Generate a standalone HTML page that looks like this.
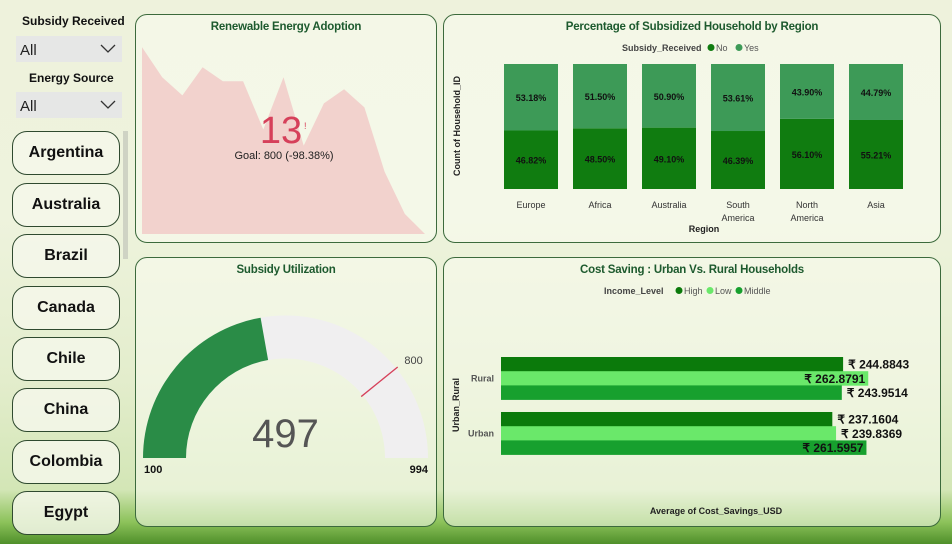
<!DOCTYPE html>
<html><head><meta charset="utf-8"><style>
body{margin:0;width:952px;height:544px;overflow:hidden;font-family:"Liberation Sans",sans-serif;position:relative;
background:linear-gradient(180deg,#eef2dc 0%,#eef3dd 40%,#e3edcc 70%,#d3e6b6 90%,#8cc25a 96%,#4f8f2a 100%);}
.panel{position:absolute;border:1px solid #3c6a3c;border-radius:12px;background:rgba(250,252,240,0.55);box-sizing:border-box}
.btn{position:absolute;left:12px;width:108px;height:44px;border:1px solid #2f4a2f;border-radius:15px;background:rgba(244,247,234,0.85);box-sizing:border-box;text-align:center;line-height:42px;font-weight:bold;font-size:16px;color:#111}
.lbl{position:absolute;font-weight:bold;font-size:12px;color:#111}
.dd{position:absolute;left:16px;width:106px;height:26px;background:#e6e7e6;font-size:15px;line-height:30px;padding-left:4px;box-sizing:border-box;color:#222}
.dd svg{position:absolute;right:6px;top:8px}
</style></head><body>
<div class="lbl" style="left:22px;top:14px">Subsidy Received</div>
<div class="dd" style="top:36px">All<svg width="16" height="10"><path d="M1 1 L8 8 L15 1" fill="none" stroke="#333" stroke-width="1.3"/></svg></div>
<div class="lbl" style="left:29px;top:71px">Energy Source</div>
<div class="dd" style="top:92px">All<svg width="16" height="10"><path d="M1 1 L8 8 L15 1" fill="none" stroke="#333" stroke-width="1.3"/></svg></div>
<div style="position:absolute;left:123px;top:131px;width:5px;height:128px;background:#cfd3c4"></div>
<div class="btn" style="top:131px">Argentina</div>
<div class="btn" style="top:183px">Australia</div>
<div class="btn" style="top:234px">Brazil</div>
<div class="btn" style="top:286px">Canada</div>
<div class="btn" style="top:337px">Chile</div>
<div class="btn" style="top:388px">China</div>
<div class="btn" style="top:440px">Colombia</div>
<div class="btn" style="top:491px">Egypt</div>

<div class="panel" style="left:135px;top:14px;width:302px;height:229px"></div>
<div class="panel" style="left:443px;top:14px;width:498px;height:229px"></div>
<div class="panel" style="left:135px;top:257px;width:302px;height:270px"></div>
<div class="panel" style="left:443px;top:257px;width:498px;height:270px"></div>

<svg width="952" height="544" style="position:absolute;left:0;top:0" font-family="Liberation Sans, sans-serif">
<g id="kpi"></g><g id="bars"></g><g id="gauge"></g><g id="hbars"></g>
</svg>
<script>
const NS="http://www.w3.org/2000/svg";
function mk(p,t,a,txt){const e=document.createElementNS(NS,t);for(const k in a)e.setAttribute(k,a[k]);if(txt!==undefined)e.textContent=txt;p.appendChild(e);return e;}
// KPI trend
const trendVals=[93,78,69,83,76,76,52,78,44,65,72,63,31,10,-23];
const kpiValue=13, kpiGoal=800;
// Region chart
const regions=[["Europe"],["Africa"],["Australia"],["South","America"],["North","America"],["Asia"]];
const noPct=[46.82,48.50,49.10,46.39,56.10,55.21];
const yesPct=[53.18,51.50,50.90,53.61,43.90,44.79];
// Gauge
const gMin=100,gMax=994,gVal=497,gTarget=800;
// Cost savings
const groups=["Rural","Urban"];
const incomeLevels=["High","Low","Middle"];
const savings=[[244.8843,262.8791,243.9514],[237.1604,239.8369,261.5957]];

const TS={'font-size':11.5,'font-weight':'bold',fill:'#1d5a2e','letter-spacing':'-0.2'};
function title(p,x,y,s,name){const e=mk(p,'text',Object.assign({x:x,y:y,'text-anchor':'middle'},TS),s);
 }

const kpi=document.getElementById('kpi');
title(kpi,286,30,'Renewable Energy Adoption','kpi-title');
const tx=i=>142+i*(425-142)/(trendVals.length-1), ty=v=>234-v*(234-37)/100*1.02;
let d='M142 234 '+trendVals.map((v,i)=>'L'+tx(i).toFixed(1)+' '+Math.min(234,ty(v)).toFixed(1)).join(' ')+' L425 234 Z';
let a=mk(kpi,'path',{d:d,fill:'#f2c6c4',opacity:0.75});

let t=mk(kpi,'text',{x:281,y:143,'text-anchor':'middle','font-size':38,fill:'#d6405a'},String(kpiValue));

mk(kpi,'text',{x:304,y:129,'font-size':9,fill:'#d6405a'},'!');
t=mk(kpi,'text',{x:284,y:159,'text-anchor':'middle','font-size':11,fill:'#222'},'Goal: '+kpiGoal+' ('+((kpiValue-kpiGoal)/kpiGoal*100).toFixed(2)+'%)');


const B=document.getElementById('bars');
title(B,692,30,'Percentage of Subsidized Household by Region','region-chart-title');
t=mk(B,'text',{x:622,y:51,'font-size':9,'font-weight':'bold',fill:'#444'},'Subsidy_Received');

let c=mk(B,'circle',{cx:711,cy:47.5,r:3.5,fill:'#107c10'});
mk(B,'text',{x:716,y:51,'font-size':9,fill:'#555'},'No');
c=mk(B,'circle',{cx:739,cy:47.5,r:3.5,fill:'#3d9a57'});
mk(B,'text',{x:744,y:51,'font-size':9,fill:'#555'},'Yes');
t=mk(B,'text',{x:460,y:126,'text-anchor':'middle','font-size':9,'font-weight':'bold',fill:'#222',transform:'rotate(-90 460 126)'},'Count of Household_ID');

t=mk(B,'text',{x:704,y:232,'text-anchor':'middle','font-size':9,'font-weight':'bold',fill:'#222'},'Region');

const pTop=64,pBot=189,bx=i=>504+i*69,bw=54,py=v=>pBot-v/100*(pBot-pTop);
regions.forEach((r,i)=>{
  const tot=noPct[i]+yesPct[i];
  const yN=py(noPct[i]/tot*100);
  let e=mk(B,'rect',{x:bx(i),y:yN,width:bw,height:pBot-yN,fill:'#107c10'});
  
  e=mk(B,'rect',{x:bx(i),y:pTop,width:bw,height:yN-pTop,fill:'#3d9a57'});
  
  mk(B,'text',{x:bx(i)+bw/2,y:(yN+pBot)/2+4,'text-anchor':'middle','font-size':9,'font-weight':'bold',fill:'#111'},noPct[i].toFixed(2)+'%');
  mk(B,'text',{x:bx(i)+bw/2,y:(yN+pTop)/2+4,'text-anchor':'middle','font-size':9,'font-weight':'bold',fill:'#111'},yesPct[i].toFixed(2)+'%');
  r.forEach((l,j)=>{const e2=mk(B,'text',{x:bx(i)+bw/2,y:208+j*13,'text-anchor':'middle','font-size':9,fill:'#333'},l);
    });
});

const G=document.getElementById('gauge');
title(G,286,273,'Subsidy Utilization','gauge-title');
const cx=285.5,cy=458,R=142.5,r0=99.5;
const ang=v=>Math.PI*(1-(v-gMin)/(gMax-gMin));
function arc(v1,v2){const a1=ang(v1),a2=ang(v2);
 const p=(rr,aa)=>(cx+rr*Math.cos(aa)).toFixed(2)+' '+(cy-rr*Math.sin(aa)).toFixed(2);
 return 'M'+p(R,a1)+' A'+R+' '+R+' 0 0 1 '+p(R,a2)+' L'+p(r0,a2)+' A'+r0+' '+r0+' 0 0 0 '+p(r0,a1)+' Z';}
let g=mk(G,'path',{d:arc(gMin,gMax),fill:'#f0eff0'});
g=mk(G,'path',{d:arc(gMin,gVal),fill:'#2a8c47'});
const at=ang(gTarget);
g=mk(G,'line',{x1:cx+(r0-2)*Math.cos(at),y1:cy-(r0-2)*Math.sin(at),x2:cx+(R+2)*Math.cos(at),y2:cy-(R+2)*Math.sin(at),stroke:'#d6405a','stroke-width':1.3});

mk(G,'text',{x:cx+(R+8)*Math.cos(at)+2,y:cy-(R+8)*Math.sin(at)+1,'font-size':11,fill:'#444'},String(gTarget));
t=mk(G,'text',{x:cx,y:447,'text-anchor':'middle','font-size':40,fill:'#555'},String(gVal));

mk(G,'text',{x:144,y:473,'font-size':11,'font-weight':'bold',fill:'#111'},String(gMin));
mk(G,'text',{x:428,y:473,'text-anchor':'end','font-size':11,'font-weight':'bold',fill:'#111'},String(gMax));

const H=document.getElementById('hbars');
title(H,692,273,'Cost Saving : Urban Vs. Rural Households','cost-chart-title');
t=mk(H,'text',{x:604,y:294,'font-size':9,'font-weight':'bold',fill:'#444'},'Income_Level');

const colors=['#0b7a0b','#6ae86a','#17a02e'];
const lx=[679,710,739];
incomeLevels.forEach((l,i)=>{const e=mk(H,'circle',{cx:lx[i],cy:290.5,r:3.5,fill:colors[i]});
 
 mk(H,'text',{x:lx[i]+5,y:294,'font-size':9,fill:'#555'},l);});
t=mk(H,'text',{x:459,y:405,'text-anchor':'middle','font-size':9,'font-weight':'bold',fill:'#222',transform:'rotate(-90 459 405)'},'Urban_Rural');

t=mk(H,'text',{x:716,y:514,'text-anchor':'middle','font-size':9,'font-weight':'bold',fill:'#222'},'Average of Cost_Savings_USD');

const x0=501,sx=v=>x0+v*1.397;
const gy=[357,412],bh=14.2;
groups.forEach((gname,gi)=>{
  mk(H,'text',{x:494,y:gy[gi]+bh*1.5+3,'text-anchor':'end','font-size':9,'font-weight':'bold',fill:'#555'},gname);
  savings[gi].forEach((v,k)=>{
    const y=gy[gi]+k*bh;
    const e=mk(H,'rect',{x:x0,y:y,width:sx(v)-x0,height:bh+0.3,fill:colors[k]});
    
    const lab='₹ '+v.toFixed(4);
    const isMax=v===Math.max(...savings[gi]);
    mk(H,'text',{x:isMax?sx(v)-3:sx(v)+5,y:y+bh-2.5,'text-anchor':isMax?'end':'start','font-size':12,'font-weight':'bold',fill:'#111'},lab);
  });
});
</script>
</body></html>
